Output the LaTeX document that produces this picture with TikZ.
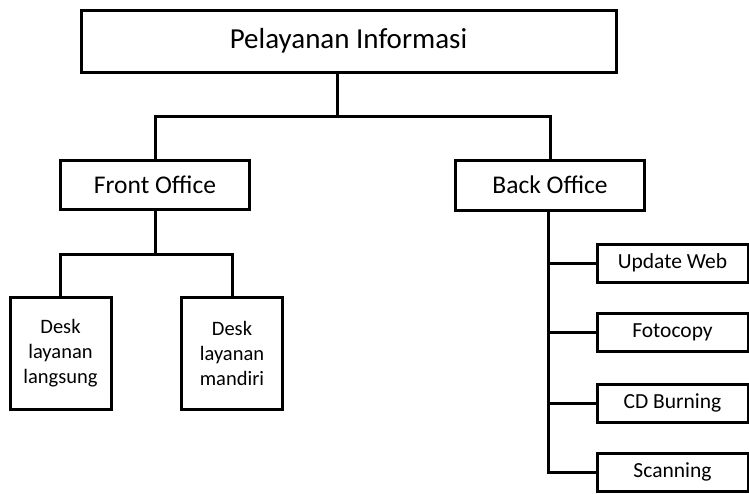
\documentclass[tikz,border=0pt]{standalone}
\usepackage{fontspec}
\setmainfont{Carlito}

\begin{document}
\begin{tikzpicture}[x=1pt, y=-1pt, line width=3pt,
    box/.style={draw, inner sep=0pt, align=center},
    rightbox/.style={box, minimum width=151pt, minimum height=38pt, font=\fontsize{21.5}{24}\selectfont},
    deskbox/.style={box, minimum width=101pt, minimum height=112pt, font=\fontsize{20.5}{25}\selectfont}]

    \useasboundingbox (0,0) rectangle (749,493);

    % Top level
    \node[box, minimum width=535pt, minimum height=62pt, font=\fontsize{29}{33}\selectfont] (top) at (348.5,41) {Pelayanan Informasi};

    % Front and back office
    \node[box, minimum width=189pt, minimum height=49pt, font=\fontsize{25.5}{29}\selectfont] (front) at (155,185) {Front Office};
    \node[box, minimum width=189pt, minimum height=50pt, font=\fontsize{25.5}{29}\selectfont] (back) at (550,185) {Back Office};

    % Desks under front office
    \node[deskbox] (langsung) at (60.5,353) {Desk\\layanan\\langsung};
    \node[deskbox] (mandiri) at (232,353) {Desk\\layanan\\mandiri};

    % Services under back office
    \node[rightbox] (web) at (672.5,263) {Update Web};
    \node[rightbox] (copy) at (672.5,332) {Fotocopy};
    \node[rightbox] (cd) at (672.5,403) {CD Burning};
    \node[rightbox] (scan) at (672.5,472) {Scanning};

    % Connectors
    \coordinate (topjoin) at (337,116);
    \coordinate (frontjoin) at (155,254);
    \draw (top.south -| topjoin) -- (topjoin);
    \draw (front.north) |- (topjoin) -| (back.north);
    \draw (front.south) -- (frontjoin);
    \draw (langsung.north) |- (frontjoin) -| (mandiri.north);
    \draw (back.south -| 548,0) |- (scan.west);
    \draw (web.west) -- (web.west -| 548,0);
    \draw (copy.west) -- (copy.west -| 548,0);
    \draw (cd.west) -- (cd.west -| 548,0);
\end{tikzpicture}
\end{document}
